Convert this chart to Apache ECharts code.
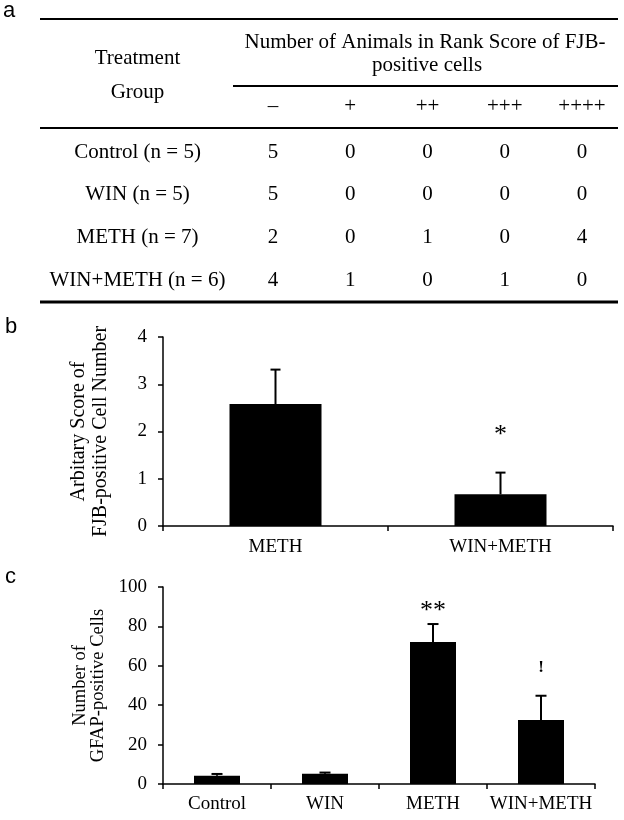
<!DOCTYPE html>
<html>
<head>
<meta charset="utf-8">
<script src="https://cdn.jsdelivr.net/npm/echarts@6/dist/echarts.min.js"></script>
<style>
html,body{margin:0;padding:0;background:#fff;}
#chart{width:624px;height:820px;}
</style>
</head>
<body>
<div id="chart"></div>
<script>
// ---- Panel a: table data ----
const tableRowLabels = ['Control (n = 5)', 'WIN (n = 5)', 'METH (n = 7)', 'WIN+METH (n = 6)'];
const rankLabels = ['\u2013', '+', '++', '+++', '++++'];
const countsControl = [5, 0, 0, 0, 0];
const countsWin = [5, 0, 0, 0, 0];
const countsMeth = [2, 0, 1, 0, 4];
const countsWinMeth = [4, 1, 0, 1, 0];
const tableHeaderLine1 = 'Number of Animals in Rank Score of FJB-';
const tableHeaderLine2 = 'positive cells';
const tableGroupHeader = ['Treatment', 'Group'];

// ---- Panel b: FJB score ----
const fjbCategories = ['METH', 'WIN+METH'];
const fjbMean = [2.58, 0.67];
const fjbSem = [0.73, 0.46];
const fjbSig = ['', '*'];
const fjbSigPos = [null, 1.93];
const fjbTickMin = 0, fjbTickMax = 4, fjbTickStep = 1;

// ---- Panel c: GFAP cells ----
const gfapCategories = ['Control', 'WIN', 'METH', 'WIN+METH'];
const gfapMean = [4.2, 5.2, 72.1, 32.5];
const gfapSem = [0.9, 0.6, 9.1, 12.3];
const gfapSig = ['', '', '**', '!'];
const gfapSigPos = [null, null, 87.5, 59];
const gfapTickMin = 0, gfapTickMax = 100, gfapTickStep = 20;

const SERIF = 'Liberation Serif, Times New Roman, serif';
const SANS = 'Liberation Sans, Arial, sans-serif';

const tableRows = [countsControl, countsWin, countsMeth, countsWinMeth];
const tableData = [];
tableRows.forEach(function (row, r) {
  row.forEach(function (v, c) { tableData.push([c, r, v]); });
});

function errData(mean, sem) {
  return mean.map(function (m, i) { return [i, m, m + sem[i]]; });
}

function errRender(capW, sigArr, sigPosArr) {
  return function (params, api) {
    const x = api.value(0);
    const d = params.dataIndex;
    const top = api.coord([x, api.value(2)]);
    const base = api.coord([x, api.value(1)]);
    const children = [
      { type: 'line', shape: { x1: base[0], y1: base[1], x2: top[0], y2: top[1] }, style: { stroke: '#000', lineWidth: 2 } },
      { type: 'line', shape: { x1: top[0] - capW / 2, y1: top[1], x2: top[0] + capW / 2, y2: top[1] }, style: { stroke: '#000', lineWidth: 2 } }
    ];
    const txt = sigArr[d];
    if (txt) {
      const p = api.coord([x, sigPosArr[d]]);
      const size = txt === '!' ? 17 : 26;
      children.push({ type: 'text', style: { text: txt, x: p[0], y: p[1], fill: '#000', font: (txt === '!' ? 'bold ' : '') + size + 'px ' + SERIF, textAlign: 'center', textVerticalAlign: 'middle' } });
    }
    return { type: 'group', children: children };
  };
}

const chart = echarts.init(document.getElementById('chart'), null, { renderer: 'canvas' });

const hidden = { show: false };
const option = {
  animation: false,
  backgroundColor: '#fff',
  textStyle: { fontFamily: SERIF, color: '#000' },
  grid: [
    { left: 234.4, width: 386.25, top: 130.7, height: 170.8 },
    { left: 163, right: 11, top: 337, height: 189 },
    { left: 163, right: 29, top: 587, height: 197 }
  ],
  xAxis: [
    {
      gridIndex: 0, type: 'category', position: 'top', data: rankLabels,
      axisLine: hidden, axisTick: hidden, splitLine: hidden,
      axisLabel: { fontFamily: SERIF, fontSize: 21, color: '#000', margin: 24, verticalAlign: 'middle', interval: 0 }
    },
    {
      gridIndex: 1, type: 'category', data: fjbCategories,
      axisLine: { lineStyle: { color: '#000', width: 1.5 } },
      axisTick: { show: true, inside: false, length: 5, lineStyle: { color: '#000', width: 1.5 } },
      axisLabel: { fontFamily: SERIF, fontSize: 19, color: '#000', margin: 12, interval: 0 },
      splitLine: hidden
    },
    {
      gridIndex: 2, type: 'category', data: gfapCategories,
      axisLine: { lineStyle: { color: '#000', width: 1.5 } },
      axisTick: { show: true, inside: false, length: 5, lineStyle: { color: '#000', width: 1.5 } },
      axisLabel: { fontFamily: SERIF, fontSize: 19, color: '#000', margin: 11, interval: 0, hideOverlap: false },
      splitLine: hidden
    }
  ],
  yAxis: [
    {
      gridIndex: 0, type: 'category', inverse: true, data: tableRowLabels,
      axisLine: hidden, axisTick: hidden, splitLine: hidden,
      axisLabel: { fontFamily: SERIF, fontSize: 21, color: '#000', align: 'center', margin: 96.9, interval: 0 }
    },
    {
      gridIndex: 1, type: 'value', min: fjbTickMin, max: fjbTickMax, interval: fjbTickStep,
      name: 'Arbitary Score of\nFJB-positive Cell Number', nameLocation: 'middle', nameRotate: 90, nameGap: 51,
      nameTextStyle: { fontFamily: SERIF, fontSize: 20, lineHeight: 22, color: '#000' },
      axisLine: { show: true, lineStyle: { color: '#000', width: 1.5 } },
      axisTick: { show: true, inside: false, length: 5, lineStyle: { color: '#000', width: 1.5 } },
      axisLabel: { fontFamily: SERIF, fontSize: 19, color: '#000', margin: 16 },
      splitLine: hidden
    },
    {
      gridIndex: 2, type: 'value', min: gfapTickMin, max: gfapTickMax, interval: gfapTickStep,
      name: 'Number of\nGFAP-positive Cells', nameLocation: 'middle', nameRotate: 90, nameGap: 52,
      nameTextStyle: { fontFamily: SERIF, fontSize: 18.5, lineHeight: 18, color: '#000' },
      axisLine: { show: true, lineStyle: { color: '#000', width: 1.5 } },
      axisTick: { show: true, inside: false, length: 5, lineStyle: { color: '#000', width: 1.5 } },
      axisLabel: { fontFamily: SERIF, fontSize: 19, color: '#000', margin: 16 },
      splitLine: hidden
    }
  ],
  series: [
    {
      type: 'custom', xAxisIndex: 0, yAxisIndex: 0, data: tableData,
      renderItem: function (params, api) {
        const p = api.coord([api.value(0), api.value(1)]);
        return { type: 'text', style: { text: String(api.value(2)), x: p[0], y: p[1], fill: '#000', font: '21px ' + SERIF, textAlign: 'center', textVerticalAlign: 'middle' } };
      }
    },
    {
      type: 'bar', xAxisIndex: 1, yAxisIndex: 1, data: fjbMean, barWidth: 92,
      itemStyle: { color: '#000' }, z: 2
    },
    {
      type: 'custom', xAxisIndex: 1, yAxisIndex: 1,
      data: errData(fjbMean, fjbSem), renderItem: errRender(10, fjbSig, fjbSigPos), z: 3
    },
    {
      type: 'bar', xAxisIndex: 2, yAxisIndex: 2, data: gfapMean, barWidth: 46,
      itemStyle: { color: '#000' }, z: 2
    },
    {
      type: 'custom', xAxisIndex: 2, yAxisIndex: 2,
      data: errData(gfapMean, gfapSem), renderItem: errRender(11, gfapSig, gfapSigPos), z: 3
    }
  ],
  graphic: [
    { type: 'text', left: 3, top: 0, style: { text: 'a', font: '22px ' + SANS, fill: '#000' } },
    { type: 'text', left: 5, top: 316, style: { text: 'b', font: '22px ' + SANS, fill: '#000' } },
    { type: 'text', left: 5, top: 566, style: { text: 'c', font: '22px ' + SANS, fill: '#000' } },
    { type: 'line', shape: { x1: 40, y1: 19, x2: 618, y2: 19 }, style: { stroke: '#000', lineWidth: 2 } },
    { type: 'line', shape: { x1: 233, y1: 86, x2: 618, y2: 86 }, style: { stroke: '#000', lineWidth: 2 } },
    { type: 'line', shape: { x1: 40, y1: 128, x2: 618, y2: 128 }, style: { stroke: '#000', lineWidth: 2 } },
    { type: 'line', shape: { x1: 40, y1: 302, x2: 618, y2: 302 }, style: { stroke: '#000', lineWidth: 3 } },
    { type: 'text', x: 425, y: 42, style: { text: tableHeaderLine1, font: '21px ' + SERIF, fill: '#000', textAlign: 'center', textVerticalAlign: 'middle' } },
    { type: 'text', x: 427, y: 65, style: { text: tableHeaderLine2, font: '21px ' + SERIF, fill: '#000', textAlign: 'center', textVerticalAlign: 'middle' } },
    { type: 'text', x: 137.5, y: 58, style: { text: tableGroupHeader[0], font: '21px ' + SERIF, fill: '#000', textAlign: 'center', textVerticalAlign: 'middle' } },
    { type: 'text', x: 137.5, y: 92, style: { text: tableGroupHeader[1], font: '21px ' + SERIF, fill: '#000', textAlign: 'center', textVerticalAlign: 'middle' } }
  ]
};
chart.setOption(option);
</script>
</body>
</html>
